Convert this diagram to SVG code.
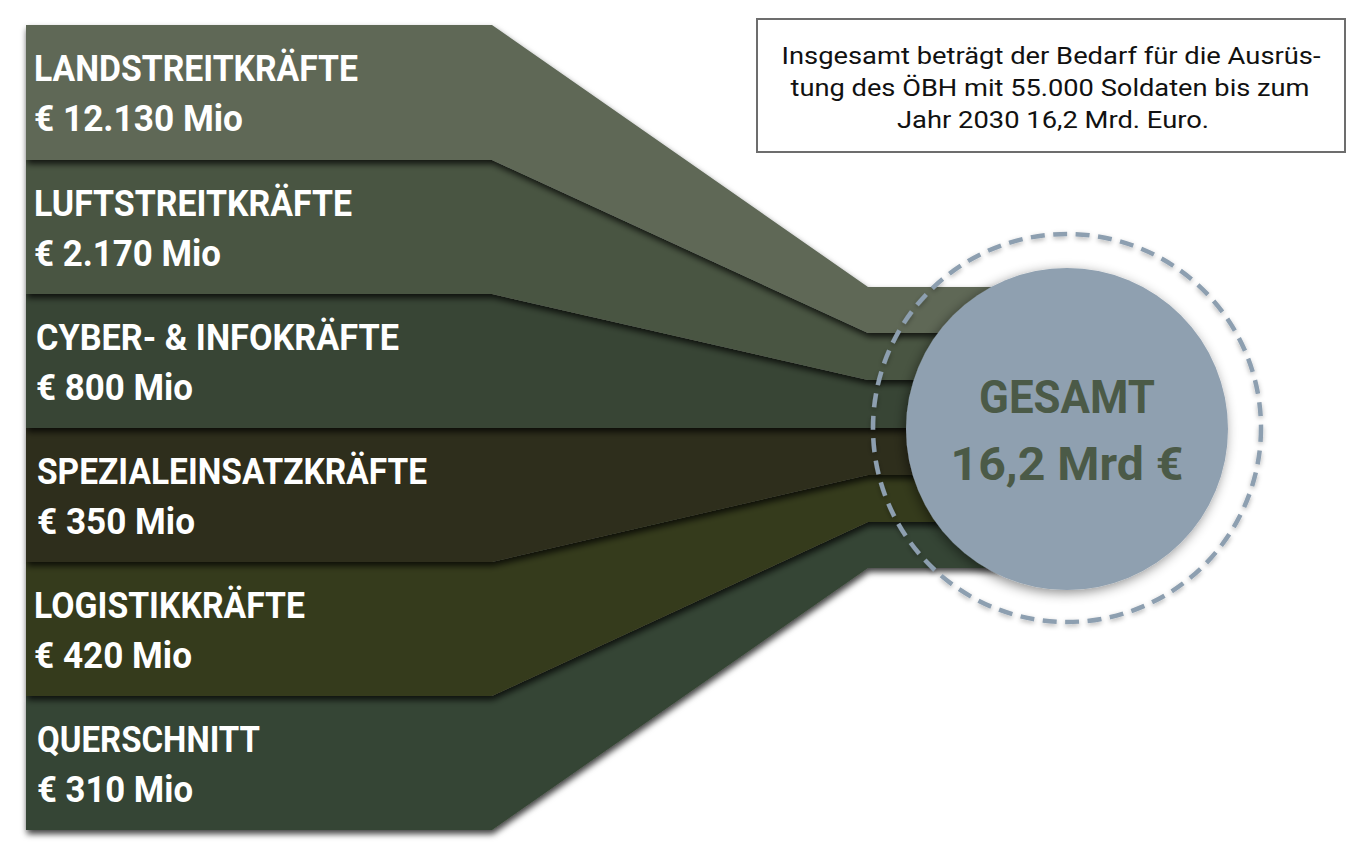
<svg xmlns="http://www.w3.org/2000/svg" width="1370" height="864" viewBox="0 0 1370 864">
<defs>
<filter id="sh" x="-10%" y="-20%" width="130%" height="150%">
<feDropShadow dx="1" dy="4" stdDeviation="3" flood-color="#000" flood-opacity="0.75"/>
</filter>
<filter id="csh" x="-20%" y="-20%" width="140%" height="140%">
<feDropShadow dx="-2" dy="3" stdDeviation="6" flood-color="#000" flood-opacity="0.45"/>
</filter>
<filter id="dsh" x="-10%" y="-10%" width="120%" height="120%">
<feDropShadow dx="0" dy="2" stdDeviation="2.5" flood-color="#000" flood-opacity="0.3"/>
</filter>
<style>
.lbl{font-family:Roboto,"Liberation Sans",sans-serif;font-weight:700;font-size:36px;fill:#ffffff}
.note{font-family:Roboto,"Liberation Sans",sans-serif;font-size:24px;fill:#111111;text-anchor:middle}
.tot{font-family:Roboto,"Liberation Sans",sans-serif;font-weight:700;font-size:46px;fill:#4b5a47;text-anchor:middle}
.band{filter:url(#sh)}
</style>
</defs>
<rect width="1370" height="864" fill="#ffffff"/>

<g id="connectors">
<polygon id="band6" class="band" fill="#364534" points="26,696 492,696 868,522 1000,522 1000,568 868,568 492,830 26,830"/>
<polygon id="band5" class="band" fill="#363a1e" points="26,562 492,562 868,475 1000,475 1000,522 868,522 492,696 26,696"/>
<polygon id="band4" class="band" fill="#2d2e1c" points="26,428 492,428 868,428 1000,428 1000,475 868,475 492,562 26,562"/>
<polygon id="band3" class="band" fill="#374536" points="26,294 492,294 868,380 1000,380 1000,428 868,428 492,428 26,428"/>
<polygon id="band2" class="band" fill="#4a5443" points="26,160 492,160 868,333 1000,333 1000,380 868,380 492,294 26,294"/>
<polygon id="band1" class="band" fill="#5e6857" points="26,25 492,25 868,287 1000,287 1000,333 868,333 492,160 26,160"/>
</g>

<g id="node-land">
<text class="lbl" x="34" y="81" textLength="324" lengthAdjust="spacingAndGlyphs">LANDSTREITKRÄFTE</text>
<text class="lbl" x="34" y="131" textLength="209" lengthAdjust="spacingAndGlyphs">€ 12.130 Mio</text>
</g>
<g id="node-luft">
<text class="lbl" x="34" y="216" textLength="318" lengthAdjust="spacingAndGlyphs">LUFTSTREITKRÄFTE</text>
<text class="lbl" x="34" y="266" textLength="187" lengthAdjust="spacingAndGlyphs">€ 2.170 Mio</text>
</g>
<g id="node-cyber">
<text class="lbl" x="36" y="350" textLength="363" lengthAdjust="spacingAndGlyphs">CYBER- &amp; INFOKRÄFTE</text>
<text class="lbl" x="36" y="400" textLength="157" lengthAdjust="spacingAndGlyphs">€ 800 Mio</text>
</g>
<g id="node-spezial">
<text class="lbl" x="37" y="484" textLength="390" lengthAdjust="spacingAndGlyphs">SPEZIALEINSATZKRÄFTE</text>
<text class="lbl" x="37" y="534" textLength="158" lengthAdjust="spacingAndGlyphs">€ 350 Mio</text>
</g>
<g id="node-logistik">
<text class="lbl" x="34" y="618" textLength="271" lengthAdjust="spacingAndGlyphs">LOGISTIKKRÄFTE</text>
<text class="lbl" x="34" y="668" textLength="158" lengthAdjust="spacingAndGlyphs">€ 420 Mio</text>
</g>
<g id="node-quer">
<text class="lbl" x="37" y="752" textLength="223" lengthAdjust="spacingAndGlyphs">QUERSCHNITT</text>
<text class="lbl" x="37" y="802" textLength="156" lengthAdjust="spacingAndGlyphs">€ 310 Mio</text>
</g>

<g id="node-gesamt">
<circle cx="1067" cy="428" r="194" fill="none" stroke="#8d9fb0" stroke-width="4.5" stroke-dasharray="14 8.5" filter="url(#dsh)"/>
<circle cx="1067" cy="429" r="161" fill="#8fa0b0" filter="url(#csh)"/>
<text class="tot" x="1067" y="413" textLength="176" lengthAdjust="spacingAndGlyphs">GESAMT</text>
<text class="tot" x="1067" y="480" textLength="233" lengthAdjust="spacingAndGlyphs">16,2 Mrd €</text>
</g>

<g id="node-note">
<rect x="757" y="19" width="588" height="133" fill="#ffffff" stroke="#6d6d6d" stroke-width="2"/>
<text class="note" x="1051" y="64" textLength="539" lengthAdjust="spacingAndGlyphs">Insgesamt beträgt der Bedarf für die Ausrüs-</text>
<text class="note" x="1050" y="96" textLength="519" lengthAdjust="spacingAndGlyphs">tung des ÖBH mit 55.000 Soldaten bis zum</text>
<text class="note" x="1053" y="128" textLength="312" lengthAdjust="spacingAndGlyphs">Jahr 2030 16,2 Mrd. Euro.</text>
</g>
</svg>
